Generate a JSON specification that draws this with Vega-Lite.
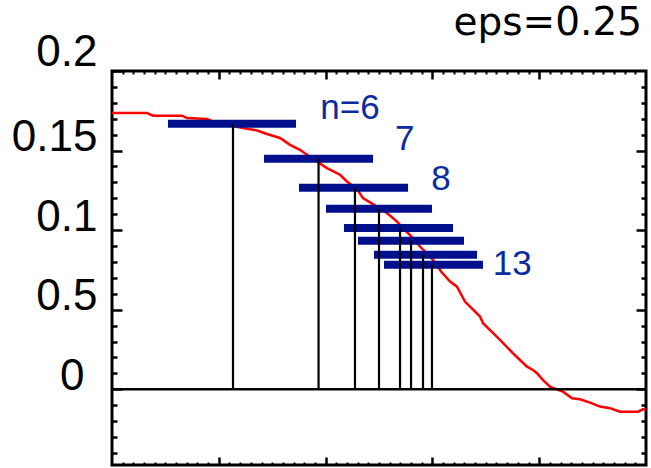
{
  "$schema": "https://vega.github.io/schema/vega-lite/v6.json",
  "width": 534,
  "height": 394,
  "autosize": {"type": "none"},
  "padding": {"left": 112, "top": 71, "right": 5, "bottom": 3},
  "background": "white",
  "config": {
    "view": {"stroke": "black", "strokeWidth": 3},
    "axis": {"domain": false, "grid": false, "tickColor": "black", "tickWidth": 2.5, "title": null}
  },
  "datasets": {
    "curve": [
      {"x": 0.0, "y": 0.1736}, {"x": 0.328, "y": 0.1736}, {"x": 0.384, "y": 0.1719}, {"x": 0.655, "y": 0.1719},
      {"x": 0.702, "y": 0.1704}, {"x": 0.89, "y": 0.1698}, {"x": 0.964, "y": 0.1677}, {"x": 1.227, "y": 0.1642},
      {"x": 1.358, "y": 0.1626}, {"x": 1.451, "y": 0.1604}, {"x": 1.573, "y": 0.1579}, {"x": 1.667, "y": 0.1536},
      {"x": 1.76, "y": 0.1505}, {"x": 1.826, "y": 0.1474}, {"x": 1.919, "y": 0.1431}, {"x": 2.013, "y": 0.139},
      {"x": 2.135, "y": 0.1348}, {"x": 2.2, "y": 0.1306}, {"x": 2.294, "y": 0.1258}, {"x": 2.35, "y": 0.1201},
      {"x": 2.481, "y": 0.1148}, {"x": 2.575, "y": 0.1107}, {"x": 2.669, "y": 0.1054}, {"x": 2.725, "y": 0.1013},
      {"x": 2.818, "y": 0.095}, {"x": 2.884, "y": 0.0897}, {"x": 3.006, "y": 0.0813}, {"x": 3.081, "y": 0.074},
      {"x": 3.165, "y": 0.0677}, {"x": 3.23, "y": 0.0645}, {"x": 3.305, "y": 0.0551}, {"x": 3.446, "y": 0.0457},
      {"x": 3.474, "y": 0.0415}, {"x": 3.633, "y": 0.031}, {"x": 3.755, "y": 0.0226}, {"x": 3.82, "y": 0.0184},
      {"x": 3.886, "y": 0.0142}, {"x": 3.942, "y": 0.0121}, {"x": 3.979, "y": 0.0101}, {"x": 4.036, "y": 0.0058},
      {"x": 4.101, "y": 0.0016}, {"x": 4.129, "y": 0.0008}, {"x": 4.223, "y": -0.0015}, {"x": 4.307, "y": -0.0057},
      {"x": 4.382, "y": -0.0063}, {"x": 4.476, "y": -0.0084}, {"x": 4.569, "y": -0.0109}, {"x": 4.663, "y": -0.0119},
      {"x": 4.757, "y": -0.0141}, {"x": 4.925, "y": -0.0141}, {"x": 4.972, "y": -0.0126}, {"x": 5.0, "y": -0.0126}
    ],
    "bars": [
      {"n": 6, "x1": 0.524, "x2": 1.723, "xm": 1.133, "y": 0.1669, "base": 0},
      {"n": 7, "x1": 1.423, "x2": 2.444, "xm": 1.934, "y": 0.1449, "base": 0},
      {"n": 8, "x1": 1.751, "x2": 2.772, "xm": 2.275, "y": 0.1266, "base": 0},
      {"n": 9, "x1": 2.004, "x2": 2.996, "xm": 2.5, "y": 0.1134, "base": 0},
      {"n": 10, "x1": 2.172, "x2": 3.193, "xm": 2.697, "y": 0.1014, "base": 0},
      {"n": 11, "x1": 2.303, "x2": 3.296, "xm": 2.8, "y": 0.0933, "base": 0},
      {"n": 12, "x1": 2.453, "x2": 3.418, "xm": 2.912, "y": 0.0845, "base": 0},
      {"n": 13, "x1": 2.547, "x2": 3.474, "xm": 2.996, "y": 0.0782, "base": 0}
    ],
    "labels": [
      {"label": "n=6", "x": 1.95, "y": 0.17},
      {"label": "7", "x": 2.65, "y": 0.1505},
      {"label": "8", "x": 2.99, "y": 0.1253},
      {"label": "13", "x": 3.565, "y": 0.0719}
    ],
    "note": [{"label": "eps=0.25", "x": 4.963, "y": 0.2226}],
    "zero": [{"y": 0}]
  },
  "layer": [
    {
      "data": {"name": "curve"},
      "mark": {"type": "line", "color": "#ff0000", "strokeWidth": 2.5, "interpolate": "linear"},
      "encoding": {
        "x": {"field": "x", "type": "quantitative", "scale": {"domain": [0, 5], "nice": false, "zero": false},
              "axis": {"orient": "bottom", "values": [1, 2, 3, 4], "labels": false, "tickSize": -8}},
        "y": {"field": "y", "type": "quantitative", "scale": {"domain": [-0.0476, 0.2], "nice": false, "zero": false},
              "axis": {"orient": "left", "values": [-0.04, -0.03, -0.02, -0.01, 0.01, 0.02, 0.03, 0.04, 0.06, 0.07, 0.08, 0.09, 0.11, 0.12, 0.13, 0.14, 0.16, 0.17, 0.18, 0.19], "labels": false, "tickSize": -5}}
      }
    },
    {
      "data": {"name": "bars"},
      "mark": {"type": "rule", "color": "#00108c", "strokeWidth": 8, "strokeCap": "butt"},
      "encoding": {
        "x": {"field": "x1", "type": "quantitative", "scale": {"domain": [0, 5], "nice": false, "zero": false},
              "axis": {"orient": "top", "values": [1, 2, 3, 4], "labels": false, "tickSize": -8}},
        "x2": {"field": "x2"},
        "y": {"field": "y", "type": "quantitative", "scale": {"domain": [-0.0476, 0.2], "nice": false, "zero": false},
              "axis": {"orient": "right", "values": [-0.04, -0.03, -0.02, -0.01, 0.01, 0.02, 0.03, 0.04, 0.06, 0.07, 0.08, 0.09, 0.11, 0.12, 0.13, 0.14, 0.16, 0.17, 0.18, 0.19], "labels": false, "tickSize": -5}}
      }
    },
    {
      "data": {"name": "bars"},
      "mark": {"type": "rule", "color": "black", "strokeWidth": 2.2},
      "encoding": {
        "x": {"field": "xm", "type": "quantitative", "scale": {"domain": [0, 5], "nice": false, "zero": false},
              "axis": {"orient": "bottom", "values": [0.1,0.2,0.3,0.4,0.5,0.6,0.7,0.8,0.9,1.1,1.2,1.3,1.4,1.5,1.6,1.7,1.8,1.9,2.1,2.2,2.3,2.4,2.5,2.6,2.7,2.8,2.9,3.1,3.2,3.3,3.4,3.5,3.6,3.7,3.8,3.9,4.1,4.2,4.3,4.4,4.5,4.6,4.7,4.8,4.9], "labels": false, "tickSize": -3, "tickWidth": 2}},
        "y": {"field": "y", "type": "quantitative", "scale": {"domain": [-0.0476, 0.2], "nice": false, "zero": false},
              "axis": {"orient": "right", "values": [0, 0.05, 0.1, 0.15], "labels": false, "tickSize": -10}},
        "y2": {"field": "base"}
      }
    },
    {
      "data": {"name": "zero"},
      "mark": {"type": "rule", "color": "black", "strokeWidth": 2.5},
      "encoding": {
        "y": {"field": "y", "type": "quantitative", "scale": {"domain": [-0.0476, 0.2], "nice": false, "zero": false},
              "axis": {"orient": "left", "values": [0, 0.05, 0.1, 0.15, 0.2], "tickSize": -10,
                       "labelExpr": "datum.value == 0 ? '0' : datum.value < 0.06 ? '0.5' : datum.value < 0.11 ? '0.1' : datum.value < 0.16 ? '0.15' : '0.2'",
                       "labelFont": "Liberation Sans", "labelFontSize": 44, "labelColor": "black",
                       "labelBaseline": "alphabetic", "labelAlign": "right",
                       "labelPadding": {"condition": {"test": "datum.value == 0", "value": 38}, "value": 25},
                       "labelOffset": {"condition": {"test": "datum.value == 0.2", "value": -6}, "value": 0},
                       "labelOverlap": false, "labelFlush": false}}
      }
    },
    {
      "data": {"name": "labels"},
      "mark": {"type": "text", "color": "#0a2c9e", "font": "Liberation Sans", "fontSize": 35, "align": "left", "baseline": "alphabetic"},
      "encoding": {
        "x": {"field": "x", "type": "quantitative", "scale": {"domain": [0, 5], "nice": false, "zero": false},
              "axis": {"orient": "top", "values": [0.1,0.2,0.3,0.4,0.5,0.6,0.7,0.8,0.9,1.1,1.2,1.3,1.4,1.5,1.6,1.7,1.8,1.9,2.1,2.2,2.3,2.4,2.5,2.6,2.7,2.8,2.9,3.1,3.2,3.3,3.4,3.5,3.6,3.7,3.8,3.9,4.1,4.2,4.3,4.4,4.5,4.6,4.7,4.8,4.9], "labels": false, "tickSize": -3, "tickWidth": 2}},
        "y": {"field": "y", "type": "quantitative", "scale": {"domain": [-0.0476, 0.2], "nice": false, "zero": false}, "axis": null},
        "text": {"field": "label", "type": "nominal"}
      }
    },
    {
      "data": {"name": "note"},
      "mark": {"type": "text", "color": "black", "font": "DejaVu Sans", "fontSize": 39, "align": "right", "baseline": "alphabetic", "clip": false},
      "encoding": {
        "x": {"field": "x", "type": "quantitative", "scale": {"domain": [0, 5], "nice": false, "zero": false}, "axis": null},
        "y": {"field": "y", "type": "quantitative", "scale": {"domain": [-0.0476, 0.2], "nice": false, "zero": false}, "axis": null},
        "text": {"field": "label", "type": "nominal"}
      }
    }
  ],
  "resolve": {"scale": {"x": "shared", "y": "shared"}, "axis": {"x": "independent", "y": "independent"}}
}
